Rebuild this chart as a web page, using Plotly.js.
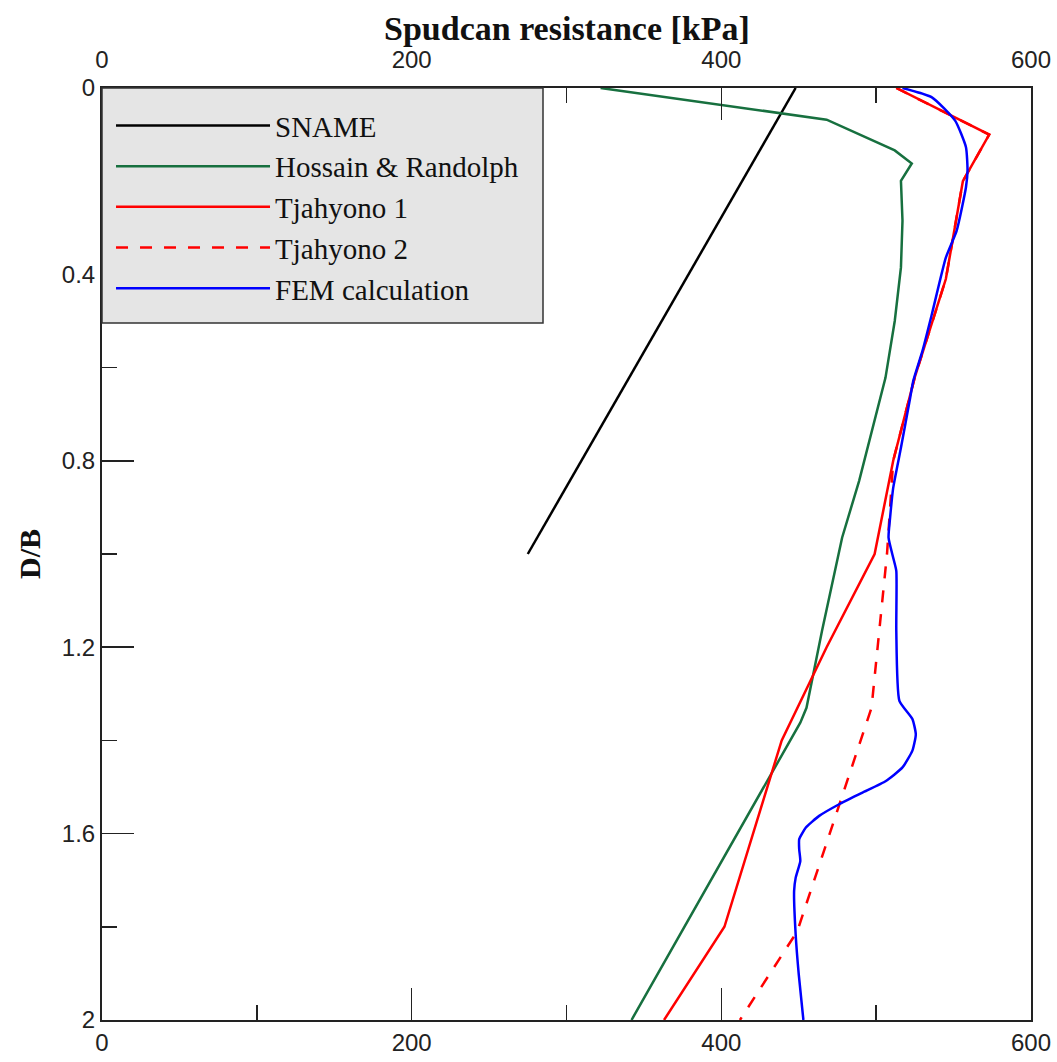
<!DOCTYPE html>
<html>
<head>
<meta charset="utf-8">
<script src="https://cdn.plot.ly/plotly-3.0.1.min.js"></script>
<style>html,body{margin:0;padding:0;background:#fff;}#chart{width:1057px;height:1062px;}</style>
</head>
<body>
<div id="chart"></div>
<script>
// Depth ratio D/B and spudcan resistance [kPa]
const snameDepth = [0, 1.0];
const snameRes = [448, 275];

const hossainDepth = [0, 0.068, 0.134, 0.162, 0.199, 0.285, 0.385, 0.5, 0.622, 0.75, 0.843, 0.965, 1.165, 1.33, 1.362, 2.0];
const hossainRes = [322, 468, 512, 523, 516, 517, 516, 512, 506, 496, 489, 478, 465, 455, 451, 342];

const tjah1Depth = [0, 0.1, 0.2, 0.41, 0.62, 0.8, 1.0, 1.2, 1.4, 1.8, 2.0];
const tjah1Res = [513, 573, 556, 545, 525, 511, 499, 468, 439, 402, 363];

const tjah2Depth = [0, 0.1, 0.2, 0.41, 0.62, 0.8, 1.0, 1.33, 1.81, 2.0];
const tjah2Res = [513, 573, 556, 545, 525, 511, 507, 497, 449, 412];

const femDepth = [0, 0.02, 0.07, 0.127, 0.177, 0.213, 0.306, 0.364, 0.485, 0.563, 0.628, 0.664, 0.772, 0.858, 0.922, 0.965, 1.008, 1.036, 1.165, 1.315, 1.354, 1.387, 1.422, 1.458, 1.487, 1.512, 1.537, 1.562, 1.587, 1.612, 1.634, 1.659, 1.695, 1.723, 1.816, 1.902, 2.0];
const femRes = [517, 536, 551, 558, 559, 558, 552, 545, 536, 530, 524, 522, 516, 511, 509, 508, 511, 513, 513, 515, 523.4, 525.6, 523.4, 517, 506.3, 491.2, 476.1, 463.2, 454.6, 450.3, 450.3, 451, 448, 447, 448, 450, 453];

const xTickVals = [0, 200, 400, 600];
const yTickVals = [0, 0.4, 0.8, 1.2, 1.6, 2];

const greenCol = '#17703f';

const traces = [
  {x: snameRes, y: snameDepth, name: 'SNAME', mode: 'lines', line: {color: '#000000', width: 2.5}, legendgroup: 'a', legendrank: 1},
  {x: hossainRes, y: hossainDepth, name: 'Hossain & Randolph', mode: 'lines', line: {color: greenCol, width: 2.5}, legendgroup: 'b', legendrank: 2},
  {x: tjah2Res, y: tjah2Depth, name: 'Tjahyono 2', mode: 'lines', line: {color: '#ff0000', width: 2.5, dash: '12px,12px'}, legendgroup: 'd', legendrank: 4},
  {x: tjah1Res, y: tjah1Depth, name: 'Tjahyono 1', mode: 'lines', line: {color: '#ff0000', width: 2.5}, legendgroup: 'c', legendrank: 3},
  {x: femRes, y: femDepth, name: 'FEM calculation', mode: 'lines', line: {color: '#0000ff', width: 2.5, shape: 'spline', smoothing: 0.5}, legendgroup: 'e', legendrank: 5},
  {x: [0], y: [0], xaxis: 'x2', mode: 'markers', marker: {opacity: 0}, showlegend: false, hoverinfo: 'skip'}
];

const tickFont = {family: 'Liberation Sans, Arial, sans-serif', size: 24, color: '#222'};
const axCommon = {
  range: [0, 600], tickvals: xTickVals, ticks: 'inside', ticklen: 32, tickwidth: 1.5, tickcolor: '#222',
  minor: {ticks: 'inside', ticklen: 15, dtick: 100, tickwidth: 1.5, tickcolor: '#222'},
  showline: true, linecolor: '#222', linewidth: 2, showgrid: false, zeroline: false,
  tickfont: tickFont
};

const legendW = (543 - 102) / 929;
const legendH = (323 - 88) / 932;

const layout = {
  width: 1057, height: 1062,
  margin: {l: 102, r: 26, t: 88, b: 42},
  paper_bgcolor: '#ffffff', plot_bgcolor: '#ffffff',
  showlegend: true,
  xaxis: Object.assign({}, axCommon, {side: 'bottom', anchor: 'y'}),
  xaxis2: Object.assign({}, axCommon, {side: 'top', overlaying: 'x', anchor: 'y', ticklabelstandoff: 8}),
  yaxis: {
    range: [2, 0], tickvals: yTickVals, ticks: 'inside', ticklen: 32, tickwidth: 1.5, tickcolor: '#222',
    minor: {ticks: 'inside', ticklen: 15, dtick: 0.2, tickwidth: 1.5, tickcolor: '#222'},
    showline: true, mirror: true, linecolor: '#222', linewidth: 2, showgrid: false, zeroline: false,
    tickfont: tickFont,
    title: {text: '<b>D/B</b>', font: {family: 'Liberation Serif, Times New Roman, serif', size: 30, color: '#111'}, standoff: 12}
  },
  annotations: [
    {text: '<b>Spudcan resistance [kPa]</b>', xref: 'paper', yref: 'paper', x: 0.5, y: 1 + 60 / 932,
     xanchor: 'center', yanchor: 'middle', showarrow: false,
     font: {family: 'Liberation Serif, Times New Roman, serif', size: 34, color: '#111'}}
  ],
  shapes: [
    {type: 'rect', xref: 'paper', yref: 'paper', x0: 0, x1: legendW, y0: 1 - legendH, y1: 1,
     fillcolor: '#e5e5e5', line: {color: '#333', width: 1.5}, layer: 'above'}
  ],
  legend: {
    x: 0.0097, y: 0.987, xanchor: 'left', yanchor: 'top',
    bgcolor: 'rgba(0,0,0,0)', borderwidth: 0,
    font: {family: 'Liberation Serif, Times New Roman, serif', size: 29, color: '#111'},
    itemwidth: 154, traceorder: 'grouped', tracegroupgap: 0
  }
};

Plotly.newPlot('chart', traces, layout, {displayModeBar: false, staticPlot: true});
</script>
</body>
</html>
